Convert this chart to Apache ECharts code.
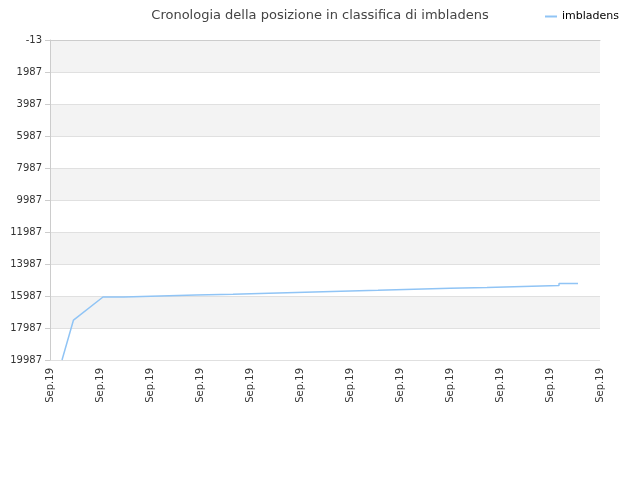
<!DOCTYPE html><html><head><meta charset="utf-8"><script src="https://cdn.jsdelivr.net/npm/echarts@6/dist/echarts.min.js"></script></head><body style="margin:0"><div id="c" style="width:640px;height:480px"></div><script>
const xTickLabels = ["Sep.19","Sep.19","Sep.19","Sep.19","Sep.19","Sep.19","Sep.19","Sep.19","Sep.19","Sep.19","Sep.19","Sep.19"];
const xPos = [2.4,4.7,10.6,14.8,14.8,22,22,29.2,29.2,36.6,36.6,43.8,43.8,51,51,58.2,58.2,65.6,65.6,72.8,72.8,80,80,87.4,87.4,94.6,94.6,101.8,101.8,105.6];
const ranks = [19987,17490,16050,16050,15990,15990,15930,15930,15870,15870,15810,15810,15750,15750,15690,15690,15630,15630,15570,15570,15510,15510,15450,15450,15390,15390,15330,15330,15200,15200];
const chart = echarts.init(document.getElementById('c'));
chart.setOption({
  title:{text:'Cronologia della posizione in classifica di imbladens',left:'center',top:4,textStyle:{fontSize:13,fontWeight:'normal',color:'#444',fontFamily:'DejaVu Sans'}},
  legend:{right:16,top:6,itemWidth:12,itemHeight:2,icon:'rect',textStyle:{fontSize:11,color:'#000',fontFamily:'DejaVu Sans'},data:['imbladens']},
  grid:{left:50,right:40,top:40,bottom:120},
  xAxis:{type:'value',min:0,max:110,interval:10,
    axisLabel:{rotate:90,fontSize:10,color:'#333',fontFamily:'DejaVu Sans',formatter:(v)=>xTickLabels[Math.round(v/10)]},
    axisLine:{lineStyle:{color:'#ccc'}},axisTick:{show:false},splitLine:{show:false}},
  yAxis:{type:'value',inverse:true,min:-13,max:19987,interval:2000,
    axisLabel:{fontSize:10,color:'#333',fontFamily:'DejaVu Sans',formatter:(v)=>String(v)},
    axisLine:{show:true,lineStyle:{color:'#ccc'}},
    splitLine:{lineStyle:{color:'#e0e0e0'}},
    splitArea:{show:true,areaStyle:{color:['#f3f3f3','#ffffff']}}},
  series:[{name:'imbladens',type:'line',symbol:'none',color:'#90c4f5',lineStyle:{width:1.5},
    data:xPos.map((x,i)=>[x,ranks[i]])}]
});
</script></body></html>
